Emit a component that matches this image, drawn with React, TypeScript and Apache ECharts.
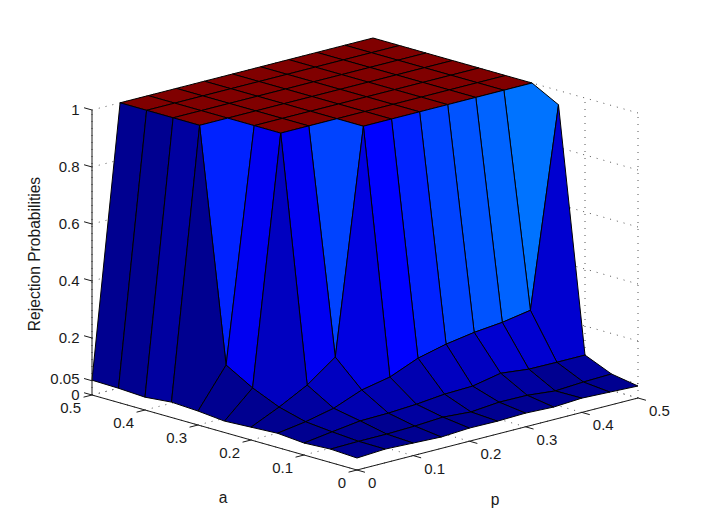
import React, { useEffect, useRef } from "react";
import * as echarts from "echarts";

// Grid of the surface: a and p run from 0 to 0.5 in steps of 0.05
const aValues = [0, 0.05, 0.1, 0.15, 0.2, 0.25, 0.3, 0.35, 0.4, 0.45, 0.5];
const pValues = [0, 0.05, 0.1, 0.15, 0.2, 0.25, 0.3, 0.35, 0.4, 0.45, 0.5];

// Rejection probabilities, one list per value of a, in order of p
const rowA000 = [0.042, 0.048, 0.044, 0.04, 0.046, 0.045, 0.048, 0.044, 0.05, 0.046, 0.042];
const rowA005 = [0.047, 0.049, 0.049, 0.052, 0.058, 0.051, 0.06, 0.059, 0.049, 0.055, 0.058];
const rowA010 = [0.042, 0.056, 0.069, 0.071, 0.077, 0.087, 0.09, 0.11, 0.099, 0.098, 0.098];
const rowA015 = [0.05, 0.065, 0.087, 0.126, 0.146, 0.187, 0.211, 0.227, 0.237, 0.254, 0.95];
const rowA020 = [0.045, 0.09, 0.142, 0.215, 1, 1, 1, 1, 1, 1, 1];
const rowA025 = [0.04, 0.131, 1, 1, 1, 1, 1, 1, 1, 1, 1];
const rowA030 = [0.049, 0.185, 1, 1, 1, 1, 1, 1, 1, 1, 1];
const rowA035 = [0.054, 1, 1, 1, 1, 1, 1, 1, 1, 1, 1];
const rowA040 = [0.045, 1, 1, 1, 1, 1, 1, 1, 1, 1, 1];
const rowA045 = [0.05, 1, 1, 1, 1, 1, 1, 1, 1, 1, 1];
const rowA050 = [0.052, 1, 1, 1, 1, 1, 1, 1, 1, 1, 1];
const surface = [rowA000, rowA005, rowA010, rowA015, rowA020, rowA025, rowA030, rowA035, rowA040, rowA045, rowA050];

const aTicks = [0.5, 0.4, 0.3, 0.2, 0.1, 0];
const pTicks = [0, 0.1, 0.2, 0.3, 0.4, 0.5];
const zTicks = [0, 0.05, 0.2, 0.4, 0.6, 0.8, 1];
const aTickLabels = ["0.5", "0.4", "0.3", "0.2", "0.1", "0"];
const pTickLabels = ["0", "0.1", "0.2", "0.3", "0.4", "0.5"];
const zTickLabels = ["0", "0.05", "0.2", "0.4", "0.6", "0.8", "1"];
const zTitle = "Rejection Probabilities";
const aTitle = "a";
const pTitle = "p";

const FONT = "'Liberation Sans', Arial, sans-serif";
const FONT_SIZE = 15;
const TITLE_SIZE = 15.6;
const TEXT_COLOR = "#1a1a1a";

// Orthographic view of the 3-D box, into the 705x530 view space of the hidden axes
const project = (a: number, p: number, z: number): [number, number] => [
  357 + (p / 0.5) * 281 - (a / 0.5) * 265,
  470 - (p / 0.5) * 72 - (a / 0.5) * 75 - z * 285,
];

const colourMin = 0.02;
const colourMax = 1;

// The 64-level jet colour map, scaled between the colour limits
function jet(z: number): string {
  const t = Math.min(63, Math.floor(((z - colourMin) / (colourMax - colourMin)) * 64)) / 63;
  const band = (c: number) => Math.max(0, Math.min(1, 1.5 - Math.abs(4 * t - c)));
  const to = (v: number) => Math.round(v * 255);
  return `rgb(${to(band(3))},${to(band(2))},${to(band(1))})`;
}

// Faces, back to front
const cells: number[][] = [];
for (let i = aValues.length - 2; i >= 0; i--) {
  for (let j = pValues.length - 2; j >= 0; j--) cells.push([i, j]);
}
cells.sort((u, v) => v[0] + v[1] - (u[0] + u[1]));

// Dotted grid on the floor and the two back walls: [a1, p1, z1, a2, p2, z2]
const gridLines: number[][] = [
  ...aTicks.map((a) => [a, 0, 0, a, 0.5, 0]),
  ...pTicks.map((p) => [0, p, 0, 0.5, p, 0]),
  ...zTicks.map((z) => [0, 0.5, z, 0.5, 0.5, z]),
  ...zTicks.map((z) => [0.5, 0, z, 0.5, 0.5, z]),
  ...aTicks.map((a) => [a, 0.5, 0, a, 0.5, 1]),
  ...pTicks.map((p) => [0.5, p, 0, 0.5, p, 1]),
];

const axisLines: number[][] = [
  [0.5, 0, 0, 0, 0, 0],
  [0, 0, 0, 0, 0.5, 0],
  [0.5, 0, 0, 0.5, 0, 1],
];

// Tick marks: the same [a1, p1, z1, a2, p2, z2], a short way out of the box
const TICK = 0.015;
const tickLines: number[][] = [
  ...aTicks.map((a) => [a, 0, 0, a, -TICK, 0]),
  ...pTicks.map((p) => [0, p, 0, -TICK, p, 0]),
  ...zTicks.map((z) => [0.5, 0, z, 0.5 + TICK, 0, z]),
];

function lineRenderer(style: Record<string, unknown>) {
  return (_: unknown, api: any) => {
    const from = project(api.value(0), api.value(1), api.value(2));
    const to = project(api.value(3), api.value(4), api.value(5));
    const s = api.coord(from);
    const e = api.coord(to);
    return {
      type: "line",
      shape: { x1: s[0], y1: s[1], x2: e[0], y2: e[1] },
      style,
      silent: true,
    };
  };
}

function textElement(api: any, view: [number, number], text: string, extra: Record<string, unknown>) {
  const c = api.coord(view);
  return {
    type: "text",
    x: c[0],
    y: c[1],
    silent: true,
    style: {
      text,
      fontFamily: FONT,
      fontSize: FONT_SIZE,
      fill: TEXT_COLOR,
      verticalAlign: "middle",
      ...extra,
    },
  };
}

const labelSeries = (
  ticks: number[],
  labels: string[],
  place: (v: number) => [number, number],
  align: string,
) => ({
  type: "custom",
  coordinateSystem: "cartesian2d",
  clip: false,
  data: ticks.map((t, i) => [t, i]),
  renderItem: (_: unknown, api: any) =>
    textElement(api, place(api.value(0)), labels[api.value(1)], { align }),
});

export default function App() {
  const ref = useRef<HTMLDivElement>(null);
  useEffect(() => {
    document.body.style.margin = "0";
    const chart = echarts.init(ref.current!, undefined, { renderer: "svg" });
    chart.setOption({
      animation: false,
      backgroundColor: "#ffffff",
      grid: { left: 0, right: 0, top: 0, bottom: 0 },
      xAxis: { type: "value", min: 0, max: 705, show: false },
      yAxis: { type: "value", min: 0, max: 530, inverse: true, show: false },
      series: [
        {
          type: "custom",
          coordinateSystem: "cartesian2d",
          clip: false,
          data: gridLines,
          renderItem: lineRenderer({ stroke: "#555555", lineWidth: 1, lineDash: [1, 6] }),
        },
        {
          type: "custom",
          coordinateSystem: "cartesian2d",
          clip: false,
          data: cells,
          renderItem: (_: unknown, api: any) => {
            const i = api.value(0);
            const j = api.value(1);
            const corners = [
              [i, j],
              [i, j + 1],
              [i + 1, j + 1],
              [i + 1, j],
            ];
            return {
              type: "polygon",
              silent: true,
              shape: {
                points: corners.map(([r, c]) =>
                  api.coord(project(aValues[r], pValues[c], surface[r][c])),
                ),
              },
              style: { fill: jet(surface[i][j]), stroke: "#000000", lineWidth: 1, lineJoin: "round" },
            };
          },
        },
        {
          type: "custom",
          coordinateSystem: "cartesian2d",
          clip: false,
          data: [...axisLines, ...tickLines],
          renderItem: lineRenderer({ stroke: "#1a1a1a", lineWidth: 1 }),
        },
        labelSeries(aTicks, aTickLabels, (a) => {
          const [x, y] = project(a, 0, 0);
          return [x - 11, y + 12.5];
        }, "right"),
        labelSeries(pTicks, pTickLabels, (p) => {
          const [x, y] = project(0, p, 0);
          return [x + 11, y + 12.5];
        }, "left"),
        labelSeries(zTicks, zTickLabels, (z) => {
          const [x, y] = project(0.5, 0, z);
          return [x - 12.5, y - 1 - (z === 0.05 ? 1 : 0)];
        }, "right"),
        {
          type: "custom",
          coordinateSystem: "cartesian2d",
          clip: false,
          data: [[0]],
          renderItem: (_: unknown, api: any) => ({
            type: "group",
            children: [
              {
                ...textElement(api, [34.5, 254], zTitle, { align: "center", fontSize: TITLE_SIZE }),
                rotation: Math.PI / 2,
              },
              textElement(api, [223, 497], aTitle, { align: "center", fontSize: TITLE_SIZE }),
              textElement(api, [495, 499], pTitle, { align: "center", fontSize: TITLE_SIZE }),
            ],
          }),
        },
      ],
    });
    return () => chart.dispose();
  }, []);
  return <div ref={ref} style={{ width: 705, height: 530 }} />;
}
